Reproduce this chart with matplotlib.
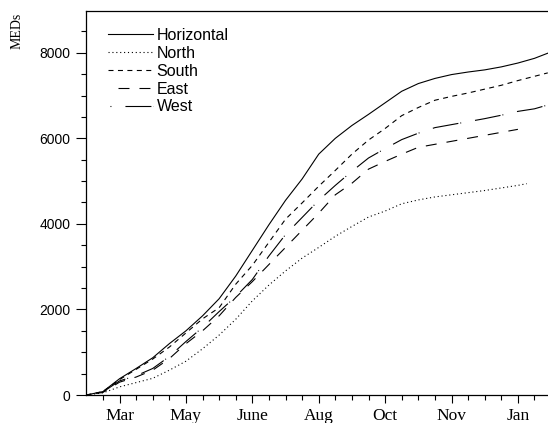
import matplotlib
matplotlib.use("Agg")
import matplotlib.pyplot as plt

plt.rcParams['lines.scale_dashes'] = False

# days counted from the start of the record; one sample every 15 days
days = [2, 17, 32, 47, 62, 77, 92, 107, 122, 137, 152, 167, 182, 197, 212,
        227, 242, 257, 272, 287, 302, 317, 332, 347, 362, 377, 392, 407, 419]
days_north = [2, 17, 32, 47, 62, 77, 92, 107, 122, 137, 152, 167, 182, 197, 212,
              227, 242, 257, 272, 287, 302, 317, 332, 347, 362, 377, 392, 400]
days_east = [2, 17, 32, 47, 62, 77, 92, 107, 122, 137, 152, 167, 182, 197, 212,
             227, 242, 257, 272, 287, 302, 317, 332, 347, 362, 377, 392]

horizontal = [0, 80, 380, 620, 870, 1200, 1500, 1850, 2250, 2780, 3380, 3980, 4550, 5050, 5630,
              6000, 6300, 6560, 6830, 7100, 7280, 7400, 7490, 7550, 7600, 7670, 7760, 7870, 7990]
north = [0, 50, 190, 290, 390, 580, 790, 1080, 1400, 1770, 2200, 2570, 2900, 3200,
         3450, 3710, 3940, 4160, 4300, 4470, 4560, 4630, 4680, 4730, 4780, 4840, 4900, 4940]
south = [0, 80, 360, 600, 840, 1120, 1450, 1780, 2040, 2590, 3030, 3570, 4110, 4490, 4880,
         5250, 5630, 5960, 6230, 6530, 6720, 6890, 6980, 7060, 7150, 7240, 7350, 7450, 7530]
east = [0, 60, 300, 420, 580, 850, 1200, 1500, 1850, 2280, 2650, 3050, 3450, 3850,
        4250, 4680, 4950, 5280, 5460, 5630, 5790, 5860, 5930, 6000, 6070, 6140, 6210]
west = [0, 70, 330, 450, 620, 900, 1250, 1580, 1950, 2300, 2700, 3250, 3750, 4150, 4550,
        4900, 5230, 5540, 5760, 5970, 6120, 6250, 6320, 6390, 6460, 6540, 6630, 6690, 6780]

month_ticks = [32, 92, 152, 212, 272, 332, 392]
month_labels = ['Mar', 'May', 'June', 'Aug', 'Oct', 'Nov', 'Jan']
minor_ticks = list(range(17, 421, 15))

fig = plt.figure(figsize=(5.48, 4.23), dpi=100)
ax = fig.add_axes([86 / 548, 28 / 423, 462 / 548, 383.6 / 423])

lw = 0.8
ax.plot(days, horizontal, color='black', lw=lw, linestyle='-', label='Horizontal')
ax.plot(days_north, north, color='black', lw=lw, linestyle=(0, (0.8, 2.0)), label='North')
ax.plot(days, south, color='black', lw=lw, linestyle=(0, (3.6, 3.2)), label='South')
ax.plot(days_east, east, color='black', lw=lw, linestyle=(7.9, (7.9, 7.2)), label='East')
ax.plot(days, west, color='black', lw=lw, linestyle=(18.7, (18.7, 1.4, 0.7, 10.1)), label='West')

ax.set_xlim(1.7, 419.2)
ax.set_ylim(0, 8967)

ax.set_xticks(month_ticks)
ax.set_xticklabels(month_labels, fontfamily='Liberation Serif', fontsize=12.5)
ax.set_xticks(minor_ticks, minor=True)
ax.set_yticks([0, 2000, 4000, 6000, 8000])
ax.set_yticklabels(['0', '2000', '4000', '6000', '8000'], fontfamily='Liberation Sans', fontsize=10)
ax.set_yticks(range(500, 9000, 500), minor=True)

ax.tick_params(axis='x', which='major', length=6, width=0.8, pad=3, direction='out')
ax.tick_params(axis='x', which='minor', length=3.6, width=0.8, direction='out')
ax.tick_params(axis='y', which='major', length=7, width=0.8, pad=4, direction='out')
ax.tick_params(axis='y', which='minor', length=3.5, width=0.8, direction='out')

for side in ['left', 'bottom', 'top']:
    ax.spines[side].set_linewidth(0.9)
    ax.spines[side].set_color('black')
ax.spines['right'].set_visible(False)

fig.text(17 / 548, 1 - 13 / 423, 'MEDs', rotation=90, ha='center', va='top',
         fontfamily='Liberation Serif', fontsize=10)

ax.legend(loc='upper left', bbox_to_anchor=(0.0476, 0.957), frameon=False,
          prop={'family': 'Liberation Sans', 'size': 11.5}, handlelength=2.8,
          handletextpad=0.25, labelspacing=0.18, borderpad=0, borderaxespad=0)

fig.savefig('out.png', dpi=100)
